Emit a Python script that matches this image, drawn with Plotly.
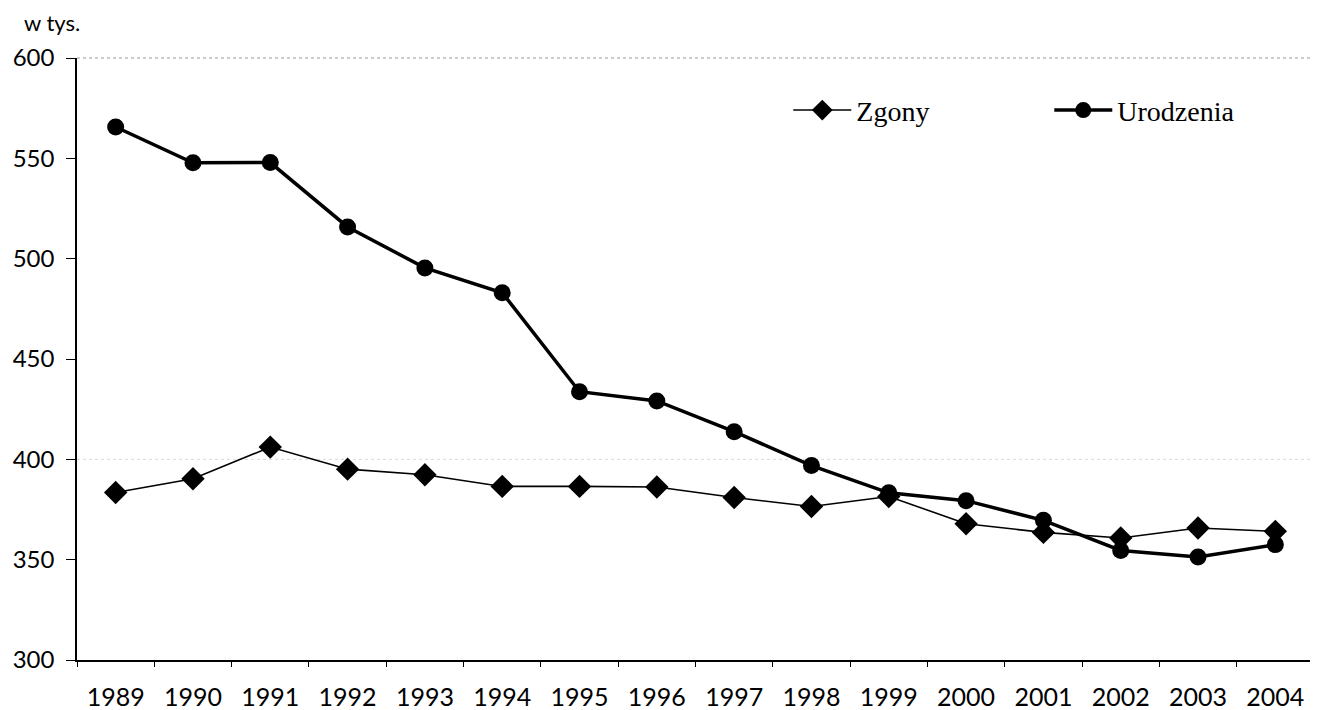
import plotly.graph_objects as go

years = [str(y) for y in range(1989, 2005)]
zgony = [383.5, 390.3, 406.1, 395.1, 392.3, 386.5, 386.5, 386.2, 381.0, 376.5,
         381.5, 367.9, 363.6, 360.8, 365.8, 364.1]
urodzenia = [565.6, 547.8, 547.9, 515.8, 495.4, 483.0, 433.7, 429.1, 413.8, 396.9,
             383.3, 379.4, 369.6, 354.6, 351.3, 357.5]
y_ticks = [300, 350, 400, 450, 500, 550, 600]

fig = go.Figure()
fig.add_trace(go.Scatter(
    x=years, y=zgony, name="Zgony", mode="lines+markers",
    line=dict(color="black", width=1.6),
    marker=dict(symbol="diamond", size=18, color="black"),
))
fig.add_trace(go.Scatter(
    x=years, y=urodzenia, name="Urodzenia", mode="lines+markers",
    line=dict(color="black", width=3.5),
    marker=dict(symbol="circle", size=17, color="black"),
))

fig.update_layout(
    width=1310, height=702,
    margin=dict(l=69, r=4, t=49.5, b=49.5, autoexpand=False),
    paper_bgcolor="white", plot_bgcolor="white",
    showlegend=True,
    legend=dict(
        orientation="h", x=0.575, y=0.913, xanchor="left", yanchor="middle",
        font=dict(family="Liberation Serif", size=28, color="black"),
        itemwidth=58, entrywidth=188, entrywidthmode="pixels",
        bgcolor="rgba(0,0,0,0)",
    ),
    xaxis=dict(
        type="category", range=[-0.5, 15.5],
        showline=True, linecolor="black", linewidth=2,
        ticks="outside", tickson="boundaries", ticklen=5, tickcolor="black", tickwidth=1,
        showgrid=False, zeroline=False,
        tickfont=dict(family="Lato", size=25, color="black"),
        ticklabelstandoff=14,
    ),
    yaxis=dict(
        range=[300, 600], tickvals=y_ticks, ticktext=[str(v) for v in y_ticks],
        showline=True, linecolor="black", linewidth=1.5,
        ticks="outside", ticklen=9, tickcolor="black", tickwidth=1,
        showgrid=False, zeroline=False,
        tickfont=dict(family="Lato", size=24, color="black"),
        ticklabelstandoff=7,
    ),
    shapes=[
        dict(type="line", xref="paper", yref="paper", x0=0, x1=1, y0=1, y1=1,
             line=dict(color="#9a9a9a", width=1, dash="dot")),
        dict(type="line", xref="paper", yref="paper", x0=1, x1=1, y0=0, y1=1,
             line=dict(color="#9a9a9a", width=1, dash="dot")),
        dict(type="line", xref="paper", yref="y", x0=0, x1=1, y0=400, y1=400,
             line=dict(color="#d8d8d8", width=1, dash="dot"), layer="below"),
    ],
    annotations=[
        dict(text="w tys.", xref="paper", yref="paper", x=-0.0445, y=1.059,
             xanchor="left", yanchor="middle", showarrow=False,
             font=dict(family="Lato", size=22, color="black")),
    ],
)

fig.write_html("out.html")
